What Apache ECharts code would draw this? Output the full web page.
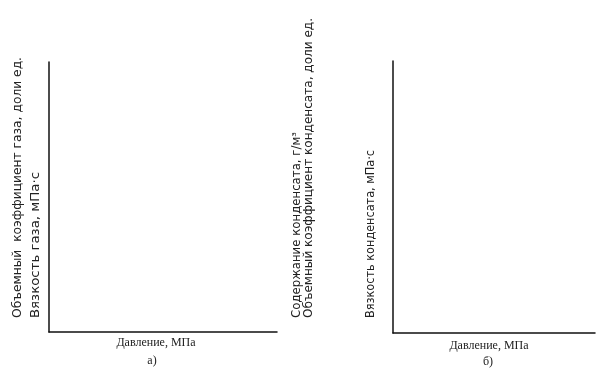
<!DOCTYPE html>
<html>
<head>
<meta charset="utf-8">
<script src="https://cdn.jsdelivr.net/npm/echarts@6/dist/echarts.min.js"></script>
<style>
html,body{margin:0;padding:0;background:#fff;}
#chart{width:614px;height:373px;}
</style>
</head>
<body>
<div id="chart"></div>
<script>
// Data (the reference panels contain only empty axes – no plotted values)
var pressure = [];
var gasVolumeFactor = [];
var gasViscosity = [];
var condensateContent = [];
var condensateVolumeFactor = [];
var condensateViscosity = [];

// Texts
var xAxisTitle = 'Давление, МПа';
var panelLabels = ['а)', 'б)'];
var leftYTitles = ['Объемный  коэффициент газа, доли ед.', 'Вязкость газа, мПа·с'];
var rightYTitles = ['Содержание конденсата, г/м³', 'Объемный коэффициент конденсата, доли ед.', 'Вязкость конденсата, мПа·с'];

var SANS = '"DejaVu Sans", sans-serif';
var SERIF = '"Liberation Serif", serif';

var ctx = document.createElement('canvas').getContext('2d');
function stretch(text, size, family, target) {
  ctx.font = size + 'px ' + family;
  return target / ctx.measureText(text).width;
}

function vtext(text, x, yBottom, size, family, len) {
  return {
    type: 'text',
    x: x, y: yBottom,
    rotation: Math.PI / 2,
    scaleX: stretch(text, size, family, len),
    style: {
      text: text,
      fill: '#222',
      font: size + 'px ' + family,
      align: 'left',
      verticalAlign: 'middle'
    }
  };
}
function htext(text, cx, cy, size, family) {
  return {
    type: 'text',
    x: cx, y: cy,
    style: {
      text: text,
      fill: '#222',
      font: size + 'px ' + family,
      align: 'center',
      verticalAlign: 'middle'
    }
  };
}

function axisCommon() {
  return {
    type: 'value',
    min: 0, max: 1,
    axisLine: {show: true, onZero: false, lineStyle: {color: '#111', width: 1.5}},
    axisTick: {show: false},
    axisLabel: {show: false},
    splitLine: {show: false}
  };
}

var chart = echarts.init(document.getElementById('chart'), null, {renderer: 'canvas'});
var xa0 = axisCommon(); xa0.gridIndex = 0;
var xa1 = axisCommon(); xa1.gridIndex = 1;
var ya0 = axisCommon(); ya0.gridIndex = 0;
var ya1 = axisCommon(); ya1.gridIndex = 1;

chart.setOption({
  backgroundColor: '#fff',
  animation: false,
  grid: [
    {left: 49, top: 62, width: 228, height: 270},
    {left: 393, top: 61, width: 202, height: 272}
  ],
  xAxis: [xa0, xa1],
  yAxis: [ya0, ya1],
  series: [
    {type: 'line', xAxisIndex: 0, yAxisIndex: 0, data: pressure.map(function (p, i) { return [p, gasVolumeFactor[i]]; })},
    {type: 'line', xAxisIndex: 0, yAxisIndex: 0, data: pressure.map(function (p, i) { return [p, gasViscosity[i]]; })},
    {type: 'line', xAxisIndex: 1, yAxisIndex: 1, data: pressure.map(function (p, i) { return [p, condensateContent[i]]; })},
    {type: 'line', xAxisIndex: 1, yAxisIndex: 1, data: pressure.map(function (p, i) { return [p, condensateVolumeFactor[i]]; })},
    {type: 'line', xAxisIndex: 1, yAxisIndex: 1, data: pressure.map(function (p, i) { return [p, condensateViscosity[i]]; })}
  ],
  graphic: [
    vtext(leftYTitles[0], 18, 318, 11.5, SANS, 261),
    vtext(leftYTitles[1], 36, 318, 11.5, SANS, 146),
    vtext(rightYTitles[0], 297, 318, 11.5, SANS, 186),
    vtext(rightYTitles[1], 309, 318, 11.5, SANS, 300),
    vtext(rightYTitles[2], 371, 318, 11.5, SANS, 168),
    htext(xAxisTitle, 156, 343, 12, SERIF),
    htext(panelLabels[0], 152, 361, 12, SERIF),
    htext(xAxisTitle, 489, 346, 12, SERIF),
    htext(panelLabels[1], 488, 362, 12, SERIF)
  ]
});
</script>
</body>
</html>
